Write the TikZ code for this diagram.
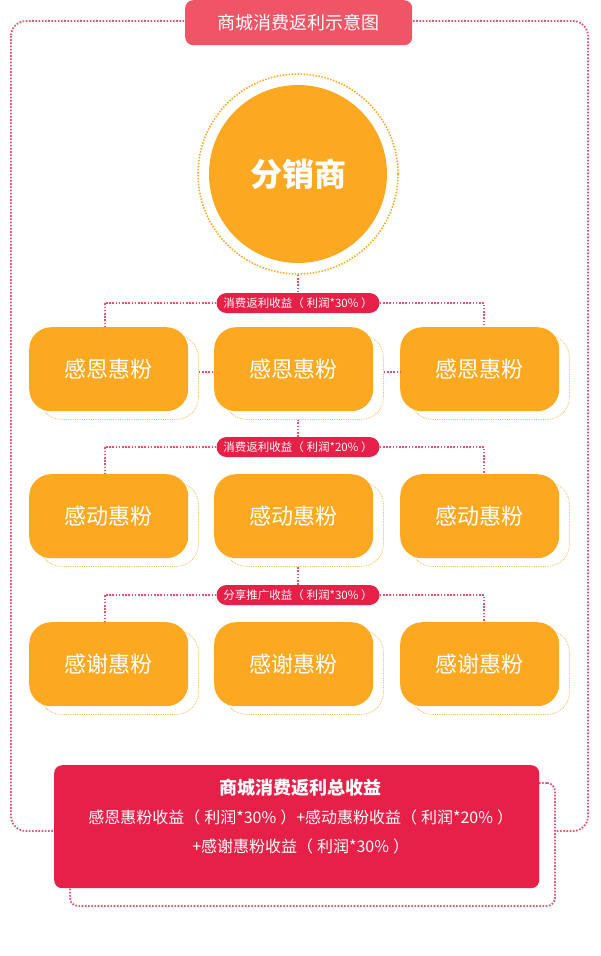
\documentclass[tikz,border=0pt]{standalone}
\usepackage{fontspec}
\setmainfont{Noto Sans CJK SC}
\usepackage{tikz}
\usetikzlibrary{calc}
\definecolor{orangefen}{HTML}{FCA921}
\definecolor{orangeclair}{HTML}{F4BA4E}
\definecolor{rouge}{HTML}{E62046}
\definecolor{rosetitre}{HTML}{EF5567}
\definecolor{rosetrait}{HTML}{E9506A}
\tikzstyle{hui} = [rectangle, rounded corners=22pt, fill=orangefen, minimum width=159pt, minimum height=84pt, inner sep=0pt, text=white, font=\fontsize{22}{22}\selectfont]
\tikzstyle{ombre} = [rectangle, rounded corners=22pt, draw=orangeclair, densely dotted, line width=0.8pt, minimum width=159pt, minimum height=84pt, inner sep=0pt]
\tikzstyle{etiquette} = [rectangle, rounded corners=10pt, fill=rouge, minimum width=163pt, minimum height=20pt, inner sep=0pt, text=white, font=\fontsize{11.5}{12}\selectfont]
\tikzstyle{pointille} = [draw=rosetrait, line width=1.8pt, dash pattern=on 1.6pt off 1.6pt]
\newcommand{\pg}{（\hspace{0.25em}}
\newcommand{\pd}{\hspace{0.25em}）}

\begin{document}
\begin{tikzpicture}[x=1pt, y=-1pt]

        \useasboundingbox (0,0) rectangle (600,956);

        % cadre general
        \draw[pointille, rounded corners=15pt] (11,21) rectangle (588,831);

        \node (Titre) [rectangle, rounded corners=8pt, fill=rosetitre, minimum width=227pt, minimum height=45pt, inner sep=0pt, text=white, font=\fontsize{18}{18}\selectfont, anchor=north west] at (185,0) {商城消费返利示意图};

        \node (Anneau) [circle, draw=orangefen, line width=1.6pt, dash pattern=on 1.5pt off 1.5pt, minimum size=200pt, inner sep=0pt] at (298,174) {};
        \node (Distrib) [circle, fill=orangefen, minimum size=178pt, inner sep=0pt, text=white, font=\fontsize{32}{32}\selectfont\bfseries] at (298,174) {分销商};

        % ombres
        \node (O11) [ombre, anchor=north west] at (39,335) {};
        \node (O12) [ombre, anchor=north west] at (224,335) {};
        \node (O13) [ombre, anchor=north west] at (410,335) {};
        \node (O21) [ombre, anchor=north west] at (39,482) {};
        \node (O22) [ombre, anchor=north west] at (224,482) {};
        \node (O23) [ombre, anchor=north west] at (410,482) {};
        \node (O31) [ombre, anchor=north west] at (39,630) {};
        \node (O32) [ombre, anchor=north west] at (224,630) {};
        \node (O33) [ombre, anchor=north west] at (410,630) {};

        % fans
        \node (F11) [hui, anchor=north west] at (29,327) {感恩惠粉};
        \node (F12) [hui, anchor=north west] at (214,327) {感恩惠粉};
        \node (F13) [hui, anchor=north west] at (400,327) {感恩惠粉};
        \node (F21) [hui, anchor=north west] at (29,474) {感动惠粉};
        \node (F22) [hui, anchor=north west] at (214,474) {感动惠粉};
        \node (F23) [hui, anchor=north west] at (400,474) {感动惠粉};
        \node (F31) [hui, anchor=north west] at (29,622) {感谢惠粉};
        \node (F32) [hui, anchor=north west] at (214,622) {感谢惠粉};
        \node (F33) [hui, anchor=north west] at (400,622) {感谢惠粉};

        \node (P1) [etiquette] at (298,303) {消费返利收益\pg 利润*30\%\pd};
        \node (P2) [etiquette] at (298,447) {消费返利收益\pg 利润*20\%\pd};
        \node (P3) [etiquette] at (298,595) {分享推广收益\pg 利润*30\%\pd};

        \draw[pointille] (Anneau.south) -- (P1.north);
        \draw[pointille] (P1.west) -| ($(F11.north) + (-4,0)$);
        \draw[pointille] (P1.east) -| ($(F13.north) + (4,0)$);
        \draw[pointille] ($(F11.east -| O11.east) + (0,3)$) -- ($(F12.west) + (0,3)$);
        \draw[pointille] ($(F12.east -| O12.east) + (0,3)$) -- ($(F13.west) + (0,3)$);

        \draw[pointille] (P2.north) -- (P2.north |- O12.south);
        \draw[pointille] (P2.west) -| ($(F21.north) + (-4,0)$);
        \draw[pointille] (P2.east) -| ($(F23.north) + (4,0)$);

        \draw[pointille] (P3.north) -- (P3.north |- O22.south);
        \draw[pointille] (P3.west) -| ($(F31.north) + (-4,0)$);
        \draw[pointille] (P3.east) -| ($(F33.north) + (4,0)$);

        % total
        \node (OTotal) [rectangle, rounded corners=8pt, fill=white, pointille, minimum width=485pt, minimum height=123pt, inner sep=0pt, anchor=north west] at (69,782) {};
        \node (Total) [rectangle, rounded corners=8pt, fill=rouge, minimum width=485pt, minimum height=123pt, inner sep=0pt, anchor=north west] at (54,765) {};
        \node (TotalTxt) [anchor=north, align=center, text=white, font=\fontsize{16}{29}\selectfont] at ($(Total.north) + (4,10)$) {{\fontsize{18}{18}\selectfont\bfseries 商城消费返利总收益}\\
            感恩惠粉收益\pg 利润*30\%\pd +感动惠粉收益\pg 利润*20\%\pd\\
            +感谢惠粉收益\pg 利润*30\%\pd};

    \end{tikzpicture}
\end{document}
